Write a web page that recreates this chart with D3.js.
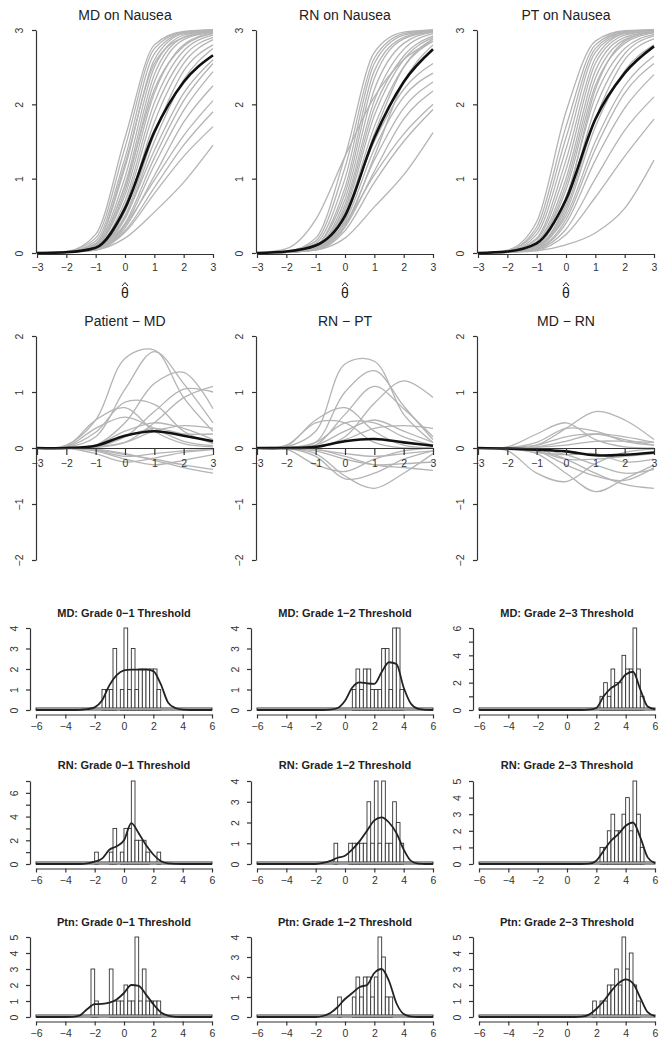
<!DOCTYPE html>
<html>
<head>
<meta charset="utf-8">
<script src="https://cdn.jsdelivr.net/npm/d3@7"></script>
<style>
body { margin: 0; background: #fff; }
svg { display: block; font-family: "Liberation Sans", Arial, sans-serif; }
</style>
</head>
<body>
<svg id="chart" width="668" height="1050"></svg>
<script>
// ---------- data ----------
let thetaGrid = [-3, -2, -1, 0, 1, 2, 3]
let thetaTicks = [-3, -2, -1, 0, 1, 2, 3]
let scoreTicks = [0, 1, 2, 3]
let diffTicks = [-2, -1, 0, 1, 2]

// expected score curves (values at thetaGrid)
let mdMean = [0, 0.01, 0.07, 0.6, 1.63, 2.3, 2.66]
let mdItems = [
  [0, 0.02, 0.25, 1.55, 2.8, 2.98, 3.0],
  [0, 0.02, 0.2, 1.42, 2.75, 2.97, 3.0],
  [0, 0.01, 0.16, 1.28, 2.68, 2.96, 3.0],
  [0, 0.01, 0.12, 1.2, 2.55, 2.9, 2.98],
  [0, 0.01, 0.13, 1.15, 2.6, 2.95, 2.99],
  [0, 0.01, 0.11, 1.02, 2.5, 2.93, 2.99],
  [0, 0.01, 0.1, 0.92, 2.4, 2.9, 2.98],
  [0, 0.01, 0.09, 0.9, 2.2, 2.78, 2.95],
  [0, 0.01, 0.09, 0.84, 2.3, 2.87, 2.97],
  [0, 0.01, 0.1, 0.78, 2.15, 2.8, 2.96],
  [0, 0.01, 0.08, 0.7, 2.02, 2.72, 2.93],
  [0, 0.01, 0.08, 0.64, 1.9, 2.64, 2.9],
  [0, 0.01, 0.07, 0.56, 1.76, 2.55, 2.87],
  [0, 0.01, 0.07, 0.5, 1.6, 2.45, 2.8],
  [0, 0.01, 0.06, 0.46, 1.5, 2.33, 2.75],
  [0, 0.01, 0.06, 0.48, 1.38, 2.15, 2.6],
  [0, 0.01, 0.05, 0.4, 1.28, 2.05, 2.55],
  [0, 0.01, 0.05, 0.37, 1.18, 1.92, 2.44],
  [0, 0.01, 0.05, 0.34, 1.04, 1.76, 2.25],
  [0, 0.01, 0.06, 0.38, 0.98, 1.58, 2.05],
  [0, 0.01, 0.05, 0.3, 0.88, 1.45, 1.9],
  [0, 0.01, 0.04, 0.28, 0.8, 1.3, 1.7],
  [0, 0.01, 0.04, 0.2, 0.55, 0.95, 1.45]
]
let rnMean = [0, 0.02, 0.1, 0.5, 1.55, 2.3, 2.74]
let rnItems = [
  [0, 0.06, 0.45, 1.3, 2.1, 2.6, 2.85],
  [0, 0.02, 0.2, 1.3, 2.7, 2.97, 3.0],
  [0, 0.02, 0.16, 1.15, 2.62, 2.95, 3.0],
  [0, 0.01, 0.13, 1.0, 2.55, 2.93, 2.99],
  [0, 0.01, 0.1, 0.88, 2.45, 2.9, 2.99],
  [0, 0.01, 0.1, 0.8, 2.35, 2.88, 2.98],
  [0, 0.01, 0.08, 0.72, 2.2, 2.82, 2.97],
  [0, 0.01, 0.08, 0.65, 2.05, 2.74, 2.95],
  [0, 0.01, 0.07, 0.6, 1.95, 2.65, 2.92],
  [0, 0.01, 0.07, 0.55, 1.85, 2.6, 2.9],
  [0, 0.01, 0.05, 0.45, 1.6, 2.5, 2.88],
  [0, 0.01, 0.06, 0.5, 1.7, 2.5, 2.85],
  [0, 0.01, 0.05, 0.35, 1.3, 2.3, 2.8],
  [0, 0.02, 0.1, 0.55, 1.5, 2.2, 2.55],
  [0, 0.01, 0.06, 0.42, 1.4, 2.1, 2.42],
  [0, 0.01, 0.05, 0.38, 1.25, 1.95, 2.3],
  [0, 0.01, 0.05, 0.35, 1.1, 1.8, 2.18],
  [0, 0.01, 0.06, 0.4, 1.05, 1.6, 2.0],
  [0, 0.01, 0.04, 0.3, 0.95, 1.5, 1.93],
  [0, 0.01, 0.04, 0.2, 0.62, 1.05, 1.62]
]
let ptMean = [0, 0.02, 0.13, 0.72, 1.8, 2.42, 2.78]
let ptItems = [
  [0, 0.04, 0.42, 1.9, 2.85, 2.99, 3.0],
  [0, 0.03, 0.35, 1.7, 2.8, 2.98, 3.0],
  [0, 0.03, 0.3, 1.55, 2.75, 2.97, 3.0],
  [0, 0.02, 0.25, 1.4, 2.7, 2.96, 3.0],
  [0, 0.02, 0.2, 1.25, 2.62, 2.95, 2.99],
  [0, 0.02, 0.18, 1.12, 2.55, 2.93, 2.99],
  [0, 0.01, 0.15, 1.0, 2.45, 2.9, 2.98],
  [0, 0.01, 0.13, 0.92, 2.35, 2.87, 2.97],
  [0, 0.01, 0.08, 0.7, 2.2, 2.85, 2.98],
  [0, 0.01, 0.12, 0.85, 2.25, 2.82, 2.96],
  [0, 0.01, 0.1, 0.75, 2.1, 2.75, 2.94],
  [0, 0.01, 0.09, 0.65, 1.95, 2.68, 2.92],
  [0, 0.01, 0.08, 0.6, 1.8, 2.6, 2.88],
  [0, 0.01, 0.07, 0.55, 1.7, 2.45, 2.8],
  [0, 0.02, 0.1, 0.5, 1.5, 2.25, 2.65],
  [0, 0.01, 0.06, 0.45, 1.4, 2.15, 2.55],
  [0, 0.01, 0.06, 0.4, 1.25, 1.95, 2.4],
  [0, 0.01, 0.05, 0.32, 1.0, 1.65, 2.1],
  [0, 0.01, 0.04, 0.25, 0.75, 1.3, 1.8],
  [0, 0.01, 0.03, 0.11, 0.27, 0.6, 1.25]
]

// differences between raters (values at thetaGrid)
let patMdMean = [0, 0, 0.04, 0.22, 0.3, 0.22, 0.12]
let patMdItems = [
  [0, 0.05, 0.5, 1.6, 1.75, 0.9, 0.3],
  [0, 0.02, 0.2, 1.05, 1.72, 1.15, 0.45],
  [0, 0, 0.05, 0.45, 1.15, 1.35, 0.7],
  [0, 0, 0.02, 0.2, 0.65, 1.05, 1.0],
  [0, 0, 0.01, 0.1, 0.45, 0.9, 1.1],
  [0, 0.03, 0.5, 0.72, 0.3, 0.08, 0.02],
  [0, 0.02, 0.28, 0.82, 0.78, 0.3, 0.08],
  [0, 0.02, 0.35, 0.55, 0.35, 0.12, 0.04],
  [0, 0, 0.05, 0.3, 0.45, 0.35, 0.15],
  [0, 0, 0.02, 0.1, 0.3, 0.4, 0.35],
  [0, 0, 0.03, 0.2, 0.35, 0.25, 0.25],
  [0, 0, -0.02, -0.1, -0.22, -0.35, -0.45],
  [0, 0, -0.05, -0.2, -0.3, -0.22, -0.12],
  [0, 0, -0.1, -0.25, -0.18, -0.08, -0.03],
  [0, 0, -0.03, -0.12, -0.2, -0.3, -0.38],
  [0, 0, -0.04, -0.15, -0.1, -0.05, -0.02]
]
let rnPtMean = [0, 0, 0.02, 0.12, 0.16, 0.1, 0.04]
let rnPtItems = [
  [0, 0.02, 0.3, 1.5, 1.55, 0.6, 0.1],
  [0, 0, 0.1, 1.0, 1.38, 0.75, 0.15],
  [0, 0, 0.05, 0.6, 1.1, 0.7, 0.2],
  [0, 0, 0, 0.2, 0.8, 1.2, 0.9],
  [0, 0.03, 0.5, 0.72, 0.3, 0.05, 0],
  [0, 0.05, 0.45, 0.45, 0.1, 0, 0],
  [0, 0, 0.1, 0.45, 0.45, 0.2, 0.05],
  [0, 0, 0.02, 0.15, 0.35, 0.4, 0.35],
  [0, 0, 0.05, 0.3, 0.5, 0.3, 0.1],
  [0, 0, -0.1, -0.5, -0.72, -0.45, -0.1],
  [0, 0, -0.15, -0.55, -0.45, -0.2, -0.05],
  [0, -0.02, -0.3, -0.42, -0.2, -0.05, 0],
  [0, 0, -0.02, -0.15, -0.3, -0.35, -0.4],
  [0, 0, -0.05, -0.2, -0.3, -0.28, -0.25],
  [0, 0, -0.03, -0.1, -0.15, -0.1, -0.05]
]
let mdRnMean = [0, -0.01, -0.03, -0.06, -0.13, -0.12, -0.08]
let mdRnItems = [
  [0, 0, 0.05, 0.35, 0.65, 0.5, 0.15],
  [0, 0.02, 0.25, 0.45, 0.15, 0.02, 0],
  [0, 0, 0.1, 0.35, 0.3, 0.12, 0.05],
  [0, 0, 0.02, 0.12, 0.25, 0.2, 0.1],
  [0, 0, 0.01, 0.05, 0.12, 0.12, 0.1],
  [0, 0.01, 0.05, 0.2, 0.25, 0.15, 0.05],
  [0, -0.05, -0.45, -0.6, -0.28, -0.08, -0.02],
  [0, 0, -0.1, -0.45, -0.78, -0.55, -0.3],
  [0, 0, -0.02, -0.2, -0.45, -0.65, -0.72],
  [0, 0, -0.05, -0.3, -0.5, -0.58, -0.35],
  [0, 0, -0.02, -0.12, -0.3, -0.45, -0.38],
  [0, 0, -0.05, -0.2, -0.2, -0.15, -0.1],
  [0, -0.01, -0.08, -0.12, -0.1, -0.25, -0.2]
]

// threshold histograms: left edges of 0.25-wide bins, counts, density at densityGrid
let binWidth = 0.25
let histTicks = [-6, -4, -2, 0, 2, 4, 6]
let densityGrid = [-6, -5.5, -5, -4.5, -4, -3.5, -3, -2.5, -2, -1.5, -1, -0.5, 0,
                   0.5, 1, 1.5, 2, 2.5, 3, 3.5, 4, 4.5, 5, 5.5, 6]

let mdG01Bins = [-1.5, -1.25, -1, -0.75, -0.25, 0, 0.25, 0.5, 0.75, 1, 1.25, 1.5, 1.75, 2, 2.25]
let mdG01Counts = [1, 1, 1, 3, 1, 4, 1, 3, 1, 2, 2, 2, 2, 2, 1]
let mdG01Density = [0, 0, 0, 0, 0, 0, 0.01, 0.04, 0.13, 0.46, 1.2, 1.7, 1.93,
                    1.97, 1.97, 1.97, 1.9, 1.27, 0.37, 0.1, 0.02, 0, 0, 0, 0]

let mdG12Bins = [0.5, 0.75, 1, 1.25, 1.5, 1.75, 2, 2.25, 2.5, 2.75, 3, 3.25, 3.5, 3.75]
let mdG12Counts = [1, 2, 1, 2, 2, 1, 1, 1, 3, 3, 1, 4, 4, 1]
let mdG12Density = [0, 0, 0, 0, 0, 0, 0, 0, 0, 0, 0.02, 0.1, 0.45,
                    1.1, 1.35, 1.3, 1.27, 1.85, 2.33, 2.25, 1.1, 0.3, 0.05, 0.01, 0]

let mdG23Bins = [2.25, 2.5, 2.75, 3, 3.25, 3.5, 3.75, 4, 4.25, 4.5, 4.75, 5]
let mdG23Counts = [1, 2, 1, 3, 2, 2, 4, 3, 3, 6, 3, 1]
let mdG23Density = [0, 0, 0, 0, 0, 0, 0, 0, 0, 0, 0, 0, 0,
                    0, 0, 0.02, 0.15, 1.0, 1.6, 1.95, 2.6, 2.8, 1.5, 0.25, 0.05]

let rnG01Bins = [-2, -1, -0.75, -0.25, 0, 0.25, 0.5, 0.75, 1, 1.25, 1.5, 2.25]
let rnG01Counts = [1, 1, 3, 1, 3, 3, 7, 2, 2, 2, 1, 1]
let rnG01Density = [0, 0, 0, 0, 0, 0, 0, 0.05, 0.2, 0.45, 1.2, 1.5, 2.0,
                    3.45, 2.6, 1.6, 0.8, 0.25, 0.05, 0.01, 0, 0, 0, 0, 0]

let rnG12Bins = [-0.75, 0.25, 0.5, 0.75, 1, 1.25, 1.5, 1.75, 2, 2.25, 2.5, 2.75, 3, 3.25, 3.5, 3.75]
let rnG12Counts = [1, 1, 1, 1, 1, 1, 3, 1, 4, 1, 4, 1, 1, 3, 2, 1]
let rnG12Density = [0, 0, 0, 0, 0, 0, 0, 0, 0, 0.05, 0.15, 0.3, 0.4,
                    0.7, 1.1, 1.6, 2.1, 2.25, 2.0, 1.5, 0.7, 0.15, 0.02, 0, 0]

let rnG23Bins = [2.25, 2.5, 2.75, 3, 3.25, 3.5, 3.75, 4, 4.25, 4.5, 4.75, 5]
let rnG23Counts = [1, 1, 2, 3, 2, 2, 3, 4, 2, 5, 3, 1]
let rnG23Density = [0, 0, 0, 0, 0, 0, 0, 0, 0, 0, 0, 0, 0,
                    0, 0, 0.02, 0.2, 0.8, 1.4, 1.8, 2.3, 2.5, 1.6, 0.4, 0.05]

let ptG01Bins = [-2.25, -2, -1, -0.75, -0.5, -0.25, 0, 0.25, 0.5, 0.75, 1, 1.25, 1.5, 1.75, 2, 2.25]
let ptG01Counts = [3, 1, 3, 1, 1, 1, 2, 1, 1, 5, 1, 3, 1, 1, 1, 1]
let ptG01Density = [0, 0, 0, 0, 0, 0.01, 0.1, 0.5, 0.8, 0.82, 0.9, 1.1, 1.5,
                    2.0, 1.95, 1.4, 0.8, 0.3, 0.08, 0.01, 0, 0, 0, 0, 0]

let ptG12Bins = [-0.5, 0.5, 0.75, 1, 1.25, 1.5, 1.75, 2, 2.25, 2.5, 2.75, 3]
let ptG12Counts = [1, 1, 2, 1, 2, 2, 1, 2, 4, 3, 1, 1]
let ptG12Density = [0, 0, 0, 0, 0, 0, 0, 0, 0, 0.05, 0.2, 0.5, 0.9,
                    1.2, 1.5, 1.6, 2.2, 2.4, 1.8, 0.7, 0.15, 0.02, 0, 0, 0]

let ptG23Bins = [1.75, 2.25, 2.5, 2.75, 3, 3.25, 3.5, 3.75, 4, 4.25, 4.5, 4.75]
let ptG23Counts = [1, 1, 1, 2, 2, 3, 2, 5, 3, 4, 2, 1]
let ptG23Density = [0, 0, 0, 0, 0, 0, 0, 0, 0, 0, 0, 0, 0,
                    0, 0.02, 0.15, 0.5, 1.0, 1.6, 2.1, 2.35, 2.1, 1.2, 0.3, 0.05]

// ---------- layout ----------
let svg = d3.select('#chart')
let axisColor = '#333'
let textColor = '#333'
let greyLine = '#b4b4b4'

let colX = [37, 257, 478]
let histX = [36, 257, 479]
let colW = 176

let topRow = { top: 30, bottom: 253, axisY: 254, titleY: 20, tickSize: 4, tickPad: 6 }
let midRow = { top: 336, bottom: 560, titleY: 326, tickSize: 7, tickPad: 5 }
let histRows = [
  { top: 628, bottom: 710, titleY: 617 },
  { top: 781, bottom: 864, titleY: 769 },
  { top: 937, bottom: 1017, titleY: 926 }
]

let styleAxis = (g) => {
  g.attr('font-family', null).attr('font-size', null)
  g.select('.domain').attr('stroke', axisColor).attr('stroke-width', 1.2)
  g.selectAll('.tick line').attr('stroke', axisColor).attr('stroke-width', 1.2)
  g.selectAll('.tick text').attr('fill', textColor).style('font-size', '10.5px')
}

let rotateYLabels = (g, offset) => {
  g.selectAll('.tick text')
    .attr('x', 0)
    .attr('y', -offset)
    .attr('dy', 0)
    .attr('text-anchor', 'middle')
    .attr('transform', 'rotate(-90)')
}

let drawCurvePanel = (p) => {
  let row = p.row
  let x0 = colX[p.col]
  let xScale = d3.scaleLinear().domain([-3, 3]).range([x0, x0 + colW])
  let yScale = d3.scaleLinear().domain(p.yDomain).range([row.bottom, row.top])
  let g = svg.append('g')

  let line = d3.line()
    .x((d, i) => xScale(thetaGrid[i]))
    .y((d) => yScale(d))
    .curve(p.curve)

  g.selectAll('path.item')
    .data(p.items)
    .enter()
    .append('path')
    .attr('class', 'item')
    .attr('d', line)
    .attr('fill', 'none')
    .attr('stroke', greyLine)
    .attr('stroke-width', 1.3)

  g.append('path')
    .datum(p.mean)
    .attr('d', line)
    .attr('fill', 'none')
    .attr('stroke', '#111')
    .attr('stroke-width', 2.6)

  let axisY = row.axisY !== undefined ? row.axisY : yScale(0)
  let xAxis = d3.axisBottom(xScale)
    .tickValues(thetaTicks)
    .tickSize(row.tickSize)
    .tickSizeOuter(0)
    .tickPadding(row.tickPad)
    .tickFormat(d3.format('d'))
  g.append('g')
    .attr('transform', 'translate(0,' + axisY + ')')
    .call(xAxis)
    .call(styleAxis)

  let yAxis = d3.axisLeft(yScale)
    .tickValues(p.yTicks)
    .tickSize(4)
    .tickSizeOuter(0)
    .tickFormat(d3.format('d'))
  g.append('g')
    .attr('transform', 'translate(' + (x0 - 1) + ',0)')
    .call(yAxis)
    .call(styleAxis)
    .call(rotateYLabels, 13)

  g.append('text')
    .attr('x', x0 + colW / 2)
    .attr('y', row.titleY)
    .attr('text-anchor', 'middle')
    .attr('fill', '#222')
    .style('font-size', '14px')
    .text(p.title)

  if (p.thetaLabel) {
    let cx = x0 + colW / 2
    // circumflex drawn as a small chevron above the theta
    g.append('path')
      .attr('d', 'M' + (cx - 3) + ',286L' + cx + ',282.5L' + (cx + 3) + ',286')
      .attr('fill', 'none')
      .attr('stroke', '#222')
      .attr('stroke-width', 1)
    g.append('text')
      .attr('x', cx)
      .attr('y', 298)
      .attr('text-anchor', 'middle')
      .attr('fill', '#222')
      .style('font-size', '14px')
      .text('θ')
  }
}

let drawHistPanel = (p) => {
  let row = histRows[p.row]
  let hx = histX[p.col]
  let xScale = d3.scaleLinear().domain([-6, 6]).range([hx, hx + colW])
  let maxCount = d3.max(p.counts)
  let yScale = d3.scaleLinear().domain([0, maxCount]).range([row.bottom, row.top])
  let g = svg.append('g')

  let bars = p.bins.map((b, i) => ({ x0: b, n: p.counts[i] }))
  g.selectAll('rect.bar')
    .data(bars)
    .enter()
    .append('rect')
    .attr('class', 'bar')
    .attr('x', (d) => xScale(d.x0))
    .attr('width', (d) => xScale(d.x0 + binWidth) - xScale(d.x0))
    .attr('y', (d) => yScale(d.n))
    .attr('height', (d) => yScale(0) - yScale(d.n))
    .attr('fill', '#fff')
    .attr('stroke', '#333')
    .attr('stroke-width', 0.9)

  // empty bins along the whole range
  g.append('rect')
    .attr('x', xScale(-6))
    .attr('y', yScale(0) - 2)
    .attr('width', xScale(6) - xScale(-6))
    .attr('height', 2)
    .attr('fill', '#fff')
    .attr('stroke', '#333')
    .attr('stroke-width', 1)

  let line = d3.line()
    .x((d, i) => xScale(densityGrid[i]))
    .y((d) => yScale(d))
    .curve(d3.curveMonotoneX)
  g.append('path')
    .datum(p.density)
    .attr('d', line)
    .attr('fill', 'none')
    .attr('stroke', '#222')
    .attr('stroke-width', 1.8)

  let xAxis = d3.axisBottom(xScale)
    .tickValues(histTicks)
    .tickSize(4)
    .tickSizeOuter(0)
    .tickPadding(4)
    .tickFormat(d3.format('d'))
  g.append('g')
    .attr('transform', 'translate(0,' + (row.bottom + 4.5) + ')')
    .call(xAxis)
    .call(styleAxis)

  let yTicks = d3.range(0, maxCount + 1)
  let yAxis = d3.axisLeft(yScale)
    .tickValues(yTicks)
    .tickSize(4)
    .tickSizeOuter(0)
    .tickFormat((d) => (maxCount > 5 && d % 2 === 1) ? '' : d)
  g.append('g')
    .attr('transform', 'translate(' + (hx - 6) + ',0)')
    .call(yAxis)
    .call(styleAxis)
    .call(rotateYLabels, 12)

  g.append('text')
    .attr('x', hx + colW / 2)
    .attr('y', row.titleY)
    .attr('text-anchor', 'middle')
    .attr('fill', '#222')
    .style('font-size', '11px')
    .style('font-weight', 'bold')
    .text(p.title)
}

let curvePanels = [
  { col: 0, row: topRow, title: 'MD on Nausea', mean: mdMean, items: mdItems },
  { col: 1, row: topRow, title: 'RN on Nausea', mean: rnMean, items: rnItems },
  { col: 2, row: topRow, title: 'PT on Nausea', mean: ptMean, items: ptItems }
].map((p) => Object.assign(p, { yDomain: [0, 3], yTicks: scoreTicks, curve: d3.curveMonotoneX, thetaLabel: true }))

let diffPanels = [
  { col: 0, row: midRow, title: 'Patient − MD', mean: patMdMean, items: patMdItems },
  { col: 1, row: midRow, title: 'RN − PT', mean: rnPtMean, items: rnPtItems },
  { col: 2, row: midRow, title: 'MD − RN', mean: mdRnMean, items: mdRnItems }
].map((p) => Object.assign(p, { yDomain: [-2, 2], yTicks: diffTicks, curve: d3.curveCatmullRom, thetaLabel: false }))

let histPanels = [
  { row: 0, col: 0, title: 'MD: Grade 0−1 Threshold', bins: mdG01Bins, counts: mdG01Counts, density: mdG01Density },
  { row: 0, col: 1, title: 'MD: Grade 1−2 Threshold', bins: mdG12Bins, counts: mdG12Counts, density: mdG12Density },
  { row: 0, col: 2, title: 'MD: Grade 2−3 Threshold', bins: mdG23Bins, counts: mdG23Counts, density: mdG23Density },
  { row: 1, col: 0, title: 'RN: Grade 0−1 Threshold', bins: rnG01Bins, counts: rnG01Counts, density: rnG01Density },
  { row: 1, col: 1, title: 'RN: Grade 1−2 Threshold', bins: rnG12Bins, counts: rnG12Counts, density: rnG12Density },
  { row: 1, col: 2, title: 'RN: Grade 2−3 Threshold', bins: rnG23Bins, counts: rnG23Counts, density: rnG23Density },
  { row: 2, col: 0, title: 'Ptn: Grade 0−1 Threshold', bins: ptG01Bins, counts: ptG01Counts, density: ptG01Density },
  { row: 2, col: 1, title: 'Ptn: Grade 1−2 Threshold', bins: ptG12Bins, counts: ptG12Counts, density: ptG12Density },
  { row: 2, col: 2, title: 'Ptn: Grade 2−3 Threshold', bins: ptG23Bins, counts: ptG23Counts, density: ptG23Density }
]

curvePanels.forEach(drawCurvePanel)
diffPanels.forEach(drawCurvePanel)
histPanels.forEach(drawHistPanel)
</script>
</body>
</html>
